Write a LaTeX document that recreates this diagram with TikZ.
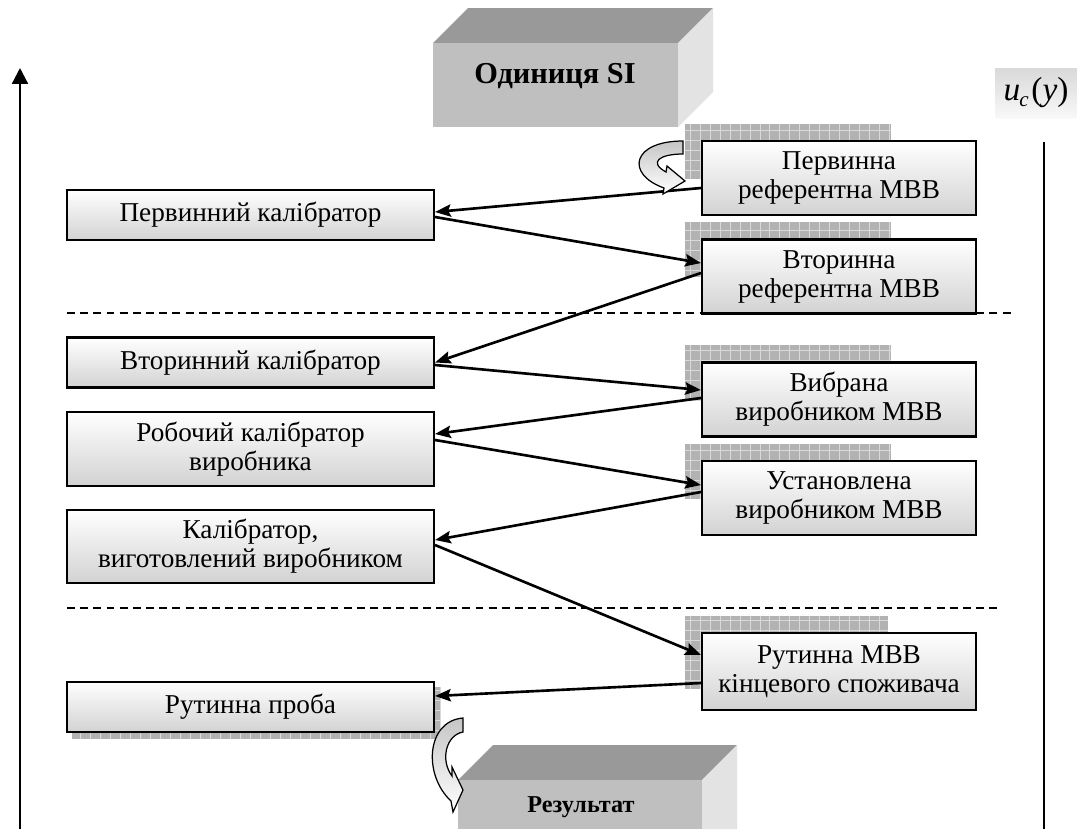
\documentclass[tikz,border=0pt]{standalone}
\usepackage{fontspec}
\setmainfont{Liberation Serif}
\usetikzlibrary{arrows.meta, positioning, calc, backgrounds}

\begin{document}
\begin{tikzpicture}[
    x=0.02cm, y=-0.02cm,
    calbox/.style={rectangle, draw=black, line width=1.2pt, top color=white, bottom color=gray!35, minimum width=7.34cm, minimum height=1cm, align=center, inner sep=2pt, font=\fontsize{15.5}{16.5}\selectfont},
    mvvbox/.style={calbox, minimum width=5.48cm, minimum height=1.48cm},
    link/.style={line width=1.5pt, -{Stealth[length=9pt, width=7pt, inset=1.5pt]}},
    level/.style={dash pattern=on 4.5pt off 3pt, line width=0.8pt},
    turn/.style={draw=black, line width=0.7pt, top color=gray!45, bottom color=white}
]
    \useasboundingbox (0,0) rectangle (1077,829);
    \clip (0,0) rectangle (1077,829);

    % unit block
    \fill[gray!80] (433,43) -- (468,8) -- (713,8) -- (678,43) -- cycle;
    \fill[gray!22] (678,43) -- (713,8) -- (713,92) -- (678,127) -- cycle;
    \fill[gray!50] (433,43) rectangle (678,127);
    \node[font=\fontsize{17.3}{19}\selectfont\bfseries] (si) at (555,76) {Одиниця SI};

    % result block
    \fill[gray!80] (458,780) -- (493,745) -- (737,745) -- (702,780) -- cycle;
    \fill[gray!22] (702,780) -- (737,745) -- (737,829) -- (702,829) -- cycle;
    \fill[gray!50] (458,780) rectangle (702,829);
    \node[font=\fontsize{13.8}{15}\selectfont\bfseries] (res) at (581,807) {Результат};

    % axes
    \coordinate (axbot) at (20,829);
    \coordinate (axtop) at (20,68);
    \draw[line width=1.3pt, -{Triangle[length=9pt, width=9pt]}] (axbot) -- (axtop);
    \draw[line width=1.1pt] (1044,142) -- (1044,829);
    \node[top color=gray!30, bottom color=gray!5, minimum width=1.64cm, minimum height=1cm, font=\fontsize{19}{21}\selectfont] (uc) at (1036,93) {\textit{u}\kern-0.5pt\raisebox{-0.35ex}{\fontsize{12}{13}\selectfont\textit{c}}\kern1.5pt(\textit{y})};

    % levels
    \draw[level] (67,313) -- (1015,313);
    \draw[level] (67,608) -- (997,608);

    % calibrators
    \node[calbox] (kal1) at (250.5,215) {Первинний калібратор};
    \node[calbox] (kal2) at (250.5,362.5) {Вторинний калібратор};
    \node[calbox, minimum height=1.48cm] (kal3) at (250.5,449) {Робочий калібратор\\виробника};
    \node[calbox, minimum height=1.46cm] (kal4) at (250.5,546.5) {Калібратор,\\виготовлений виробником};
    \node[calbox] (proba) at (250.5,707) {Рутинна проба};

    % measurement procedures
    \node[mvvbox] (mvv1) at (839,178) {Первинна\\референтна МВВ};
    \node[mvvbox] (mvv2) at (839,276.5) {Вторинна\\референтна МВВ};
    \node[mvvbox] (mvv3) at (839,399.5) {Вибрана\\виробником МВВ};
    \node[mvvbox] (mvv4) at (839,498) {Установлена\\виробником МВВ};
    \node[mvvbox, minimum height=1.54cm] (mvv5) at (839,671.5) {Рутинна МВВ\\кінцевого споживача};

    \begin{scope}[on background layer]
        \foreach \m in {mvv1,mvv2,mvv3,mvv4} {
            \fill[gray!60] ($(\m.north west)+(-16,-16)$) rectangle ($(\m.north west)+(190,39)$);
            \draw[gray!30, step=0.2cm] ($(\m.north west)+(-16,-16)$) grid ($(\m.north west)+(190,39)$);
        }
        \fill[gray!60] ($(mvv5.north west)+(-16,-16)$) rectangle ($(mvv5.north west)+(187,57)$);
        \draw[gray!30, step=0.2cm] ($(mvv5.north west)+(-16,-16)$) grid ($(mvv5.north west)+(187,57)$);
        \fill[gray!60] ($(proba.north west)+(6,6)$) rectangle ($(proba.south east)+(6,6)$);
        \draw[gray!30, step=0.2cm] ($(proba.north west)+(6,6)$) grid ($(proba.south east)+(6,6)$);
    \end{scope}

    % traceability links
    \draw[link] ($(mvv1.west)+(0,10)$) -- ($(kal1.east)+(0,-3)$);
    \draw[link] ($(kal1.east)+(0,2)$) -- ($(mvv2.west)+(0,-13.5)$);
    \draw[link] ($(mvv2.west)+(0,-3.5)$) -- (kal2.east);
    \draw[link] ($(kal2.east)+(0,2.5)$) -- ($(mvv3.west)+(0,-9.5)$);
    \draw[link] ($(mvv3.west)+(0,-1.5)$) -- ($(kal3.east)+(0,-15)$);
    \draw[link] ($(kal3.east)+(0,-9)$) -- ($(mvv4.west)+(0,-13)$);
    \draw[link] ($(mvv4.west)+(0,-6)$) -- ($(kal4.east)+(0,-6.5)$);
    \draw[link] ($(kal4.east)+(0,-1.5)$) -- ($(mvv5.west)+(0,-16.5)$);
    \draw[link] ($(mvv5.west)+(0,11.5)$) -- ($(proba.east)+(0,-11)$);

    % curved arrows
    \path[turn] (683,141) -- (683,154) .. controls (660,154) and (648,162) .. (666,172) -- (667,166) -- (685,181) -- (663,194) -- (664,188) .. controls (625,174) and (632,141) .. (683,141) -- cycle;
    \path[turn] (463,718) -- (463,732) .. controls (446,735) and (440,760) .. (452,776) -- (452,767) -- (463,790) -- (453,812) -- (451,801) .. controls (423,775) and (426,721) .. (463,718) -- cycle;
\end{tikzpicture}
\end{document}
